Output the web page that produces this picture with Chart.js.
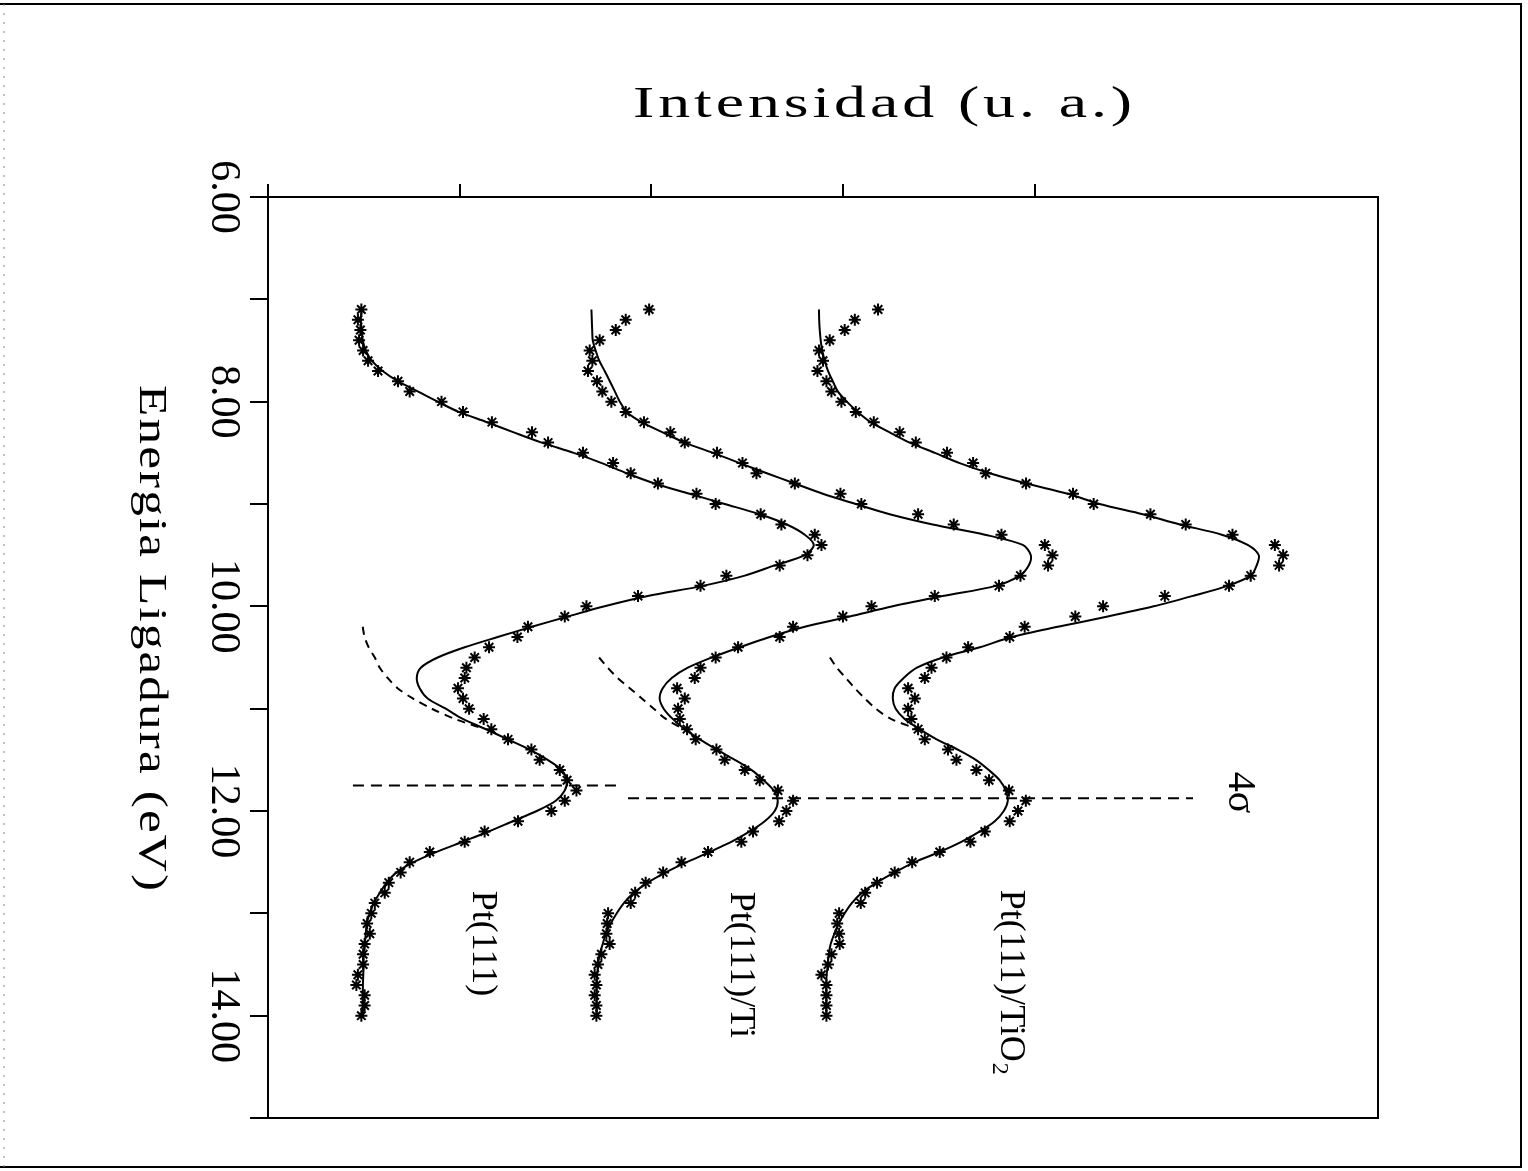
<!DOCTYPE html>
<html><head><meta charset="utf-8">
<script src="https://cdn.jsdelivr.net/npm/chart.js@4.4.1/dist/chart.umd.min.js"></script>
<style>html,body{margin:0;padding:0;background:#fff;}canvas{display:block;}</style>
</head><body>
<canvas id="c" width="1528" height="1171"></canvas>
<script>
// Binding energy (eV) of each measured point / fit node
const energy = [
  7.1,7.2,7.3,7.4,7.5,7.6,7.7,7.8,7.9,8.0,
  8.1,8.2,8.3,8.4,8.5,8.6,8.7,8.8,8.9,9.0,
  9.1,9.2,9.3,9.4,9.5,9.6,9.7,9.8,9.9,10.0,
  10.1,10.2,10.3,10.4,10.5,10.6,10.7,10.8,10.9,11.0,
  11.1,11.2,11.3,11.4,11.5,11.6,11.7,11.8,11.9,12.0,
  12.1,12.2,12.3,12.4,12.5,12.6,12.7,12.8,12.9,13.0,
  13.1,13.2,13.3,13.4,13.5,13.6,13.7,13.8,13.9,14.0
];
// Pt(111)
const pt111Data = [
  0.487,0.469,0.482,0.475,0.496,0.522,0.574,0.678,0.739,0.905,
  1.017,1.168,1.377,1.461,1.643,1.800,1.892,2.034,2.235,2.335,
  2.570,2.678,2.852,2.887,2.814,2.669,2.391,2.256,1.930,1.661,
  1.548,1.356,1.301,1.153,1.078,1.035,1.026,0.991,1.017,1.049,
  1.125,1.165,1.252,1.374,1.417,1.522,1.560,1.609,1.548,1.478,
  1.304,1.130,1.026,0.844,0.739,0.692,0.630,0.609,0.557,0.539,
  0.517,0.531,0.504,0.496,0.496,0.469,0.461,0.504,0.504,0.487
];
const pt111Fit = [
  0.489,0.484,0.489,0.494,0.510,0.541,0.598,0.677,0.781,0.885,
  0.995,1.141,1.282,1.428,1.595,1.741,1.871,2.017,2.199,2.382,
  2.565,2.706,2.800,2.847,2.800,2.643,2.487,2.268,1.981,1.756,
  1.563,1.376,1.198,1.026,0.885,0.797,0.776,0.791,0.833,0.927,
  1.016,1.136,1.251,1.365,1.459,1.532,1.558,1.548,1.501,1.402,
  1.276,1.151,1.016,0.880,0.760,0.671,0.619,0.583,0.551,0.531,
  0.515,0.510,0.504,0.499,0.499,0.497,0.495,0.495,0.495,0.495
];
// Pt(111)/Ti
const ptTiData = [
  1.988,1.866,1.814,1.730,1.678,1.692,1.669,1.716,1.744,1.791,
  1.866,1.961,2.099,2.174,2.342,2.475,2.548,2.748,2.986,3.095,
  3.391,3.577,3.826,4.052,4.092,4.069,3.925,3.813,3.478,3.148,
  2.999,2.739,2.669,2.452,2.335,2.256,2.226,2.134,2.174,2.139,
  2.148,2.186,2.231,2.339,2.382,2.487,2.565,2.660,2.739,2.704,
  2.666,2.530,2.469,2.295,2.157,2.061,1.970,1.915,1.892,1.774,
  1.769,1.765,1.782,1.739,1.721,1.704,1.713,1.704,1.713,1.713
];
const ptTiFit = [
  1.687,1.689,1.691,1.694,1.709,1.728,1.756,1.783,1.809,1.835,
  1.871,1.949,2.059,2.174,2.320,2.461,2.602,2.748,2.894,3.066,
  3.243,3.467,3.739,3.937,3.979,3.968,3.921,3.796,3.519,3.259,
  3.034,2.800,2.617,2.461,2.315,2.190,2.106,2.059,2.043,2.064,
  2.111,2.174,2.252,2.341,2.435,2.523,2.586,2.638,2.659,2.643,
  2.591,2.513,2.419,2.304,2.184,2.075,1.981,1.908,1.856,1.819,
  1.788,1.762,1.746,1.730,1.722,1.717,1.715,1.715,1.715,1.715
];
// Pt(111)/TiO2
const ptTiO2Data = [
  3.182,3.061,3.008,2.930,2.874,2.895,2.866,2.913,2.939,2.991,
  3.066,3.160,3.295,3.379,3.542,3.678,3.744,3.954,4.199,4.307,
  4.603,4.787,5.031,5.252,5.295,5.274,5.126,5.013,4.678,4.356,
  4.211,3.947,3.869,3.652,3.539,3.461,3.426,3.339,3.374,3.339,
  3.356,3.391,3.426,3.547,3.591,3.695,3.761,3.865,3.953,3.912,
  3.869,3.739,3.664,3.504,3.360,3.269,3.177,3.115,3.092,2.979,
  2.969,2.979,2.982,2.939,2.921,2.887,2.913,2.913,2.913,2.913
];
const ptTiO2Fit = [
  2.874,2.875,2.878,2.883,2.891,2.904,2.921,2.946,2.972,3.019,
  3.076,3.144,3.243,3.347,3.478,3.608,3.765,3.956,4.172,4.338,
  4.563,4.756,4.975,5.110,5.168,5.157,5.126,5.005,4.820,4.620,
  4.380,4.120,3.880,3.713,3.520,3.385,3.316,3.269,3.259,3.274,
  3.321,3.399,3.488,3.598,3.692,3.760,3.817,3.848,3.859,3.838,
  3.791,3.713,3.619,3.504,3.373,3.269,3.175,3.097,3.045,3.008,
  2.977,2.954,2.935,2.925,2.920,2.914,2.912,2.912,2.912,2.912
];
// dashed background components
const bgEnergy1 = [10.2,10.3,10.4,10.5,10.6,10.7,10.8,10.9,11.0,11.1,11.2];
const pt111Bg   = [0.494,0.504,0.525,0.557,0.583,0.624,0.676,0.755,0.854,0.974,1.130];
const bgEnergy2 = [10.5,10.6,10.7,10.8,10.9,11.0,11.1,11.2];
const ptTiBg    = [1.727,1.772,1.824,1.887,1.950,2.012,2.075,2.169];
const ptTiO2Bg  = [2.931,2.967,3.014,3.061,3.113,3.170,3.249,3.389];
// 4 sigma markers
const sigmaEnergy = [11.75, 11.875];
const sigmaFrom   = [0.443, 1.878];
const sigmaTo     = [1.844, 4.825];
// axis tick labels
const yTickValues = [6, 8, 10, 12, 14];
const yTickLabels = ['6.00', '8.00', '10.00', '12.00', '14.00'];
const curveLabels = ['Pt(111)', 'Pt(111)/Ti', 'Pt(111)/TiO'];
const xTitle = 'Intensidad (u. a.)';
const yTitle = 'Energia Ligadura (eV)';
const sigmaLabel = '4\u03C3';

const pts = (xs, ys) => xs.map((v, i) => ({x: v, y: ys[i]}));
const SERIF = "'Liberation Serif','DejaVu Serif','Times New Roman',serif";

function fitLine(xs) {
  return {data: pts(xs, energy), showLine: true, borderColor: '#000', borderWidth: 2,
          pointRadius: 0, tension: 0.3, fill: false};
}
function starSet(xs) {
  return {data: pts(xs, energy), showLine: false, pointStyle: 'star', pointRadius: 6,
          borderColor: '#000', backgroundColor: '#000', pointBorderWidth: 2};
}
function dashLine(xs, ys, dash) {
  return {data: pts(xs, ys), showLine: true, borderColor: '#000', borderWidth: 2,
          borderDash: dash, pointRadius: 0, tension: 0.3, fill: false};
}
const sigmaSets = sigmaEnergy.map((e, i) => ({
  data: [{x: sigmaFrom[i], y: e}, {x: sigmaTo[i], y: e}], showLine: true,
  borderColor: '#000', borderWidth: 2, borderDash: [11, 7], pointRadius: 0, fill: false
}));

function drawSpread(ctx, text, x, y, target, sx, stroke) {
  const chars = [...text];
  const widths = chars.map(ch => ctx.measureText(ch).width);
  const total = widths.reduce((a, b) => a + b, 0);
  const gap = chars.length > 1 ? (target - total * sx) / (chars.length - 1) : 0;
  let pos = x;
  chars.forEach((ch, i) => {
    ctx.save(); ctx.translate(pos, y); ctx.scale(sx, 1);
    ctx.fillText(ch, 0, 0);
    if (stroke) { ctx.lineWidth = stroke; ctx.strokeText(ch, 0, 0); }
    ctx.restore();
    pos += widths[i] * sx + gap;
  });
}

const decor = {
  id: 'decor',
  afterDraw(chart) {
    const ctx = chart.ctx, a = chart.chartArea;
    const xs = chart.scales.x, ys = chart.scales.y;
    ctx.save();
    ctx.strokeStyle = '#000'; ctx.fillStyle = '#000';
    // right and bottom edges of the plot box
    ctx.lineWidth = 2;
    ctx.beginPath();
    ctx.moveTo(a.right, a.top); ctx.lineTo(a.right, a.bottom); ctx.lineTo(a.left - 10, a.bottom);
    ctx.stroke();
    // outer frame
    ctx.beginPath();
    ctx.moveTo(0, 4); ctx.lineTo(1521, 4); ctx.lineTo(1521, 1167); ctx.lineTo(0, 1167);
    ctx.stroke();
    ctx.save();
    ctx.strokeStyle = '#888'; ctx.lineWidth = 1; ctx.setLineDash([2, 7]);
    ctx.beginPath(); ctx.moveTo(4, 4); ctx.lineTo(4, 1167); ctx.stroke();
    ctx.restore();

    // title (horizontal)
    ctx.font = '44px ' + SERIF;
    ctx.textBaseline = 'alphabetic'; ctx.textAlign = 'left';
    drawSpread(ctx, xTitle, 633, 117, 499, 1.45, 0);

    // rotated texts (reading top to bottom)
    const rot = (x, y, fn) => { ctx.save(); ctx.translate(x, y); ctx.rotate(Math.PI / 2); fn(); ctx.restore(); };

    ctx.font = '41px ' + SERIF;
    rot(140, 385, () => drawSpread(ctx, yTitle, 0, 0, 506, 1.25, 0));

    ctx.font = '42px ' + SERIF;
    yTickValues.forEach((v, i) => {
      const py = ys.getPixelForValue(v);
      const w = ctx.measureText(yTickLabels[i]).width;
      rot(a.left - 56, py - w / 2, () => ctx.fillText(yTickLabels[i], 0, 0));
    });

    // curve labels anchored in data coordinates
    const lab = [[1.07, 12.78], [2.414, 12.79], [3.822, 12.77]];
    curveLabels.forEach((t, i) => {
      const px = xs.getPixelForValue(lab[i][0]), py = ys.getPixelForValue(lab[i][1]);
      rot(px, py, () => {
        ctx.font = '36px ' + SERIF;
        ctx.fillText(t, 0, 0);
        if (i === 2) {
          const w = ctx.measureText(t).width;
          ctx.font = '24px ' + SERIF;
          ctx.fillText('2', w + 1, 8);
        }
      });
    });

    // 4 sigma label
    ctx.font = '40px ' + SERIF;
    const sw = ctx.measureText(sigmaLabel).width;
    const sx = xs.getPixelForValue(5.013), sy = ys.getPixelForValue(11.82);
    rot(sx, sy - sw / 2, () => ctx.fillText(sigmaLabel, 0, 0));
    ctx.restore();
  }
};

new Chart(document.getElementById('c'), {
  type: 'scatter',
  data: {
    datasets: [
      fitLine(pt111Fit), fitLine(ptTiFit), fitLine(ptTiO2Fit),
      dashLine(pt111Bg, bgEnergy1, [8, 6]),
      dashLine(ptTiBg, bgEnergy2, [8, 6]),
      dashLine(ptTiO2Bg, bgEnergy2, [8, 6]),
      ...sigmaSets,
      starSet(pt111Data), starSet(ptTiData), starSet(ptTiO2Data)
    ]
  },
  options: {
    responsive: false, animation: false, devicePixelRatio: 1,
    layout: {padding: {top: 184, left: 250, right: 150, bottom: 53}},
    plugins: {legend: {display: false}, tooltip: {enabled: false}},
    scales: {
      x: {
        type: 'linear', position: 'top', min: 0, max: 5.79,
        ticks: {display: false, stepSize: 1},
        afterBuildTicks: (axis) => { axis.ticks = axis.ticks.filter(t => t.value <= 4); },
        grid: {display: true, drawOnChartArea: false, drawTicks: true, tickLength: 13, color: '#000', lineWidth: 2},
        border: {display: true, color: '#000', width: 2}
      },
      y: {
        type: 'linear', position: 'left', reverse: true, min: 6, max: 15,
        ticks: {display: false, stepSize: 1},
        grid: {display: true, drawOnChartArea: false, drawTicks: true, tickLength: 18, color: '#000', lineWidth: 2},
        border: {display: true, color: '#000', width: 2}
      }
    }
  },
  plugins: [decor]
});
</script>
</body></html>
